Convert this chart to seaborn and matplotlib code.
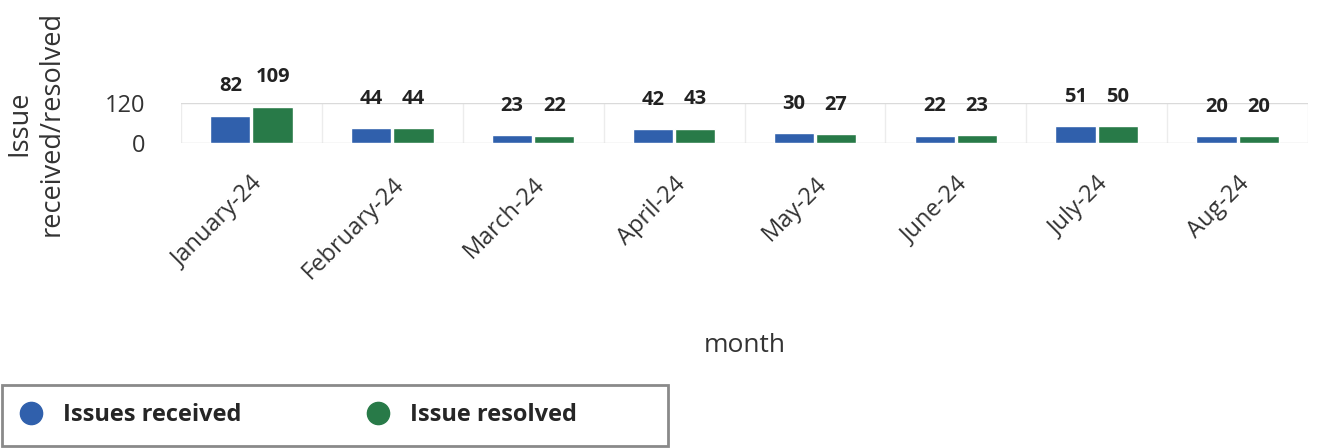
import pandas as pd
import matplotlib.pyplot as plt
import seaborn as sns
from matplotlib.lines import Line2D
from matplotlib.patches import Rectangle

months = ['January-24', 'February-24', 'March-24', 'April-24',
          'May-24', 'June-24', 'July-24', 'Aug-24']
issues_received = [82, 44, 23, 42, 30, 22, 51, 20]
issues_resolved = [109, 44, 22, 43, 27, 23, 50, 20]
series_names = ['Issues received', 'Issue resolved']
y_ticks = [0, 120]

colors = ['#3060AC', '#287A48']

sns.set_theme(style='white')
plt.rcParams['font.family'] = ['Open Sans', 'DejaVu Sans']

df = pd.DataFrame({
    'month': months * 2,
    'count': issues_received + issues_resolved,
    'series': [series_names[0]] * len(months) + [series_names[1]] * len(months),
})

fig = plt.figure(figsize=(13.19, 4.48), dpi=100)
ax = fig.add_axes([181 / 1319, 1 - 143 / 448, 1127 / 1319, 40 / 448])

sns.barplot(data=df, x='month', y='count', hue='series', palette=colors,
            saturation=1, width=0.6, gap=0.05, legend=False, ax=ax)

for c in ax.containers:
    ax.bar_label(c, fontsize=14.5, fontweight='bold', padding=14, color='#222222')

ax.set_ylim(0, 120)
ax.set_xlim(-0.5, len(months) - 0.5)
ax.set_yticks(y_ticks)
ax.set_xticks([i + 0.5 for i in range(-1, len(months))], minor=True)
ax.grid(axis='y', which='major', color='#dadada', linewidth=1)
ax.grid(axis='x', which='minor', color='#ececec', linewidth=1)
ax.grid(axis='x', which='major', visible=False)
for s in ax.spines.values():
    s.set_visible(False)
ax.tick_params(axis='both', which='both', length=0)
ax.tick_params(axis='y', labelsize=17, pad=26, labelcolor='#333333')
ax.tick_params(axis='x', labelsize=17, pad=21, labelcolor='#333333')
for lbl in ax.get_xticklabels():
    lbl.set_rotation(45)
    lbl.set_ha('right')
    lbl.set_va('top')
    lbl.set_rotation_mode('anchor')

ax.set_xlabel('month', fontsize=19, color='#333333')
ax.xaxis.set_label_coords(0.5, -5.05)
ax.xaxis.label.set_va('center')
ax.set_ylabel('Issue\nreceived/resolved', fontsize=19.5, color='#333333',
              multialignment='center')
ax.yaxis.set_label_coords(-0.102, 0.5)

# legend box drawn separately so its width matches the reference
fig.patches.append(Rectangle((2 / 1319, 2 / 448), 666 / 1319, 61 / 448,
                             transform=fig.transFigure, fill=False,
                             edgecolor='#8a8a8a', linewidth=2))
handles = [Line2D([], [], marker='o', linestyle='', markersize=16,
                  markerfacecolor=col, markeredgecolor=col) for col in colors]
fig.legend(handles, series_names, loc='center left', ncol=2, frameon=False,
           bbox_to_anchor=(19 / 1319, 1 - 415 / 448),
           prop={'size': 17, 'weight': 'bold'}, handletextpad=0.86,
           columnspacing=5.3, borderaxespad=0, borderpad=0, handlelength=1.0)

plt.savefig('out.png', dpi=100)
